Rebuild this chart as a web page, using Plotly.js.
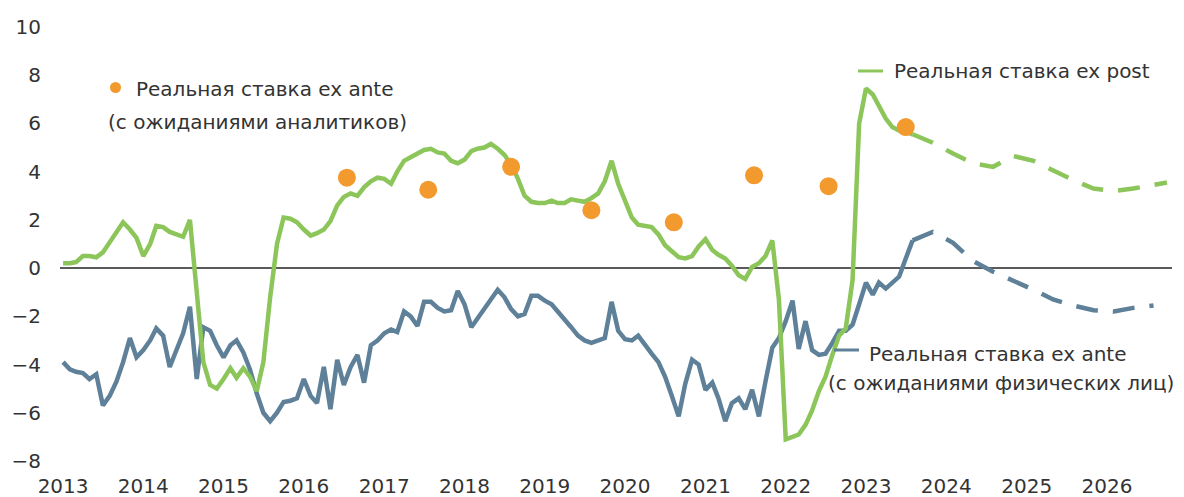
<!DOCTYPE html>
<html>
<head>
<meta charset="utf-8">
<script src="https://cdn.plot.ly/plotly-3.0.1.min.js"></script>
<style>html,body{margin:0;padding:0;background:#fff;}#chart{width:1184px;height:497px;}</style>
</head>
<body>
<div id="chart"></div>
<script>
// Monthly actual data start (Jan 2013)
const startYear = 2013;
const startMonth = 1;

// Real rate ex post (green), monthly Jan 2013 .. Aug 2023
const exPost = [
  0.2, 0.2, 0.25, 0.5, 0.5, 0.45, 0.65, 1.1, 1.5, 1.9, 1.6, 1.25,
  0.5, 1.0, 1.75, 1.7, 1.5, 1.4, 1.3, 2.0, -1.0, -3.9, -4.85, -5.0,
  -4.6, -4.15, -4.55, -4.15, -4.5, -5.1, -3.9, -1.2, 1.0, 2.1, 2.05, 1.9,
  1.6, 1.35, 1.45, 1.6, 1.95, 2.6, 2.95, 3.1, 3.0, 3.35, 3.6, 3.75,
  3.7, 3.5, 4.0, 4.45, 4.6, 4.75, 4.9, 4.95, 4.8, 4.75, 4.45, 4.35,
  4.5, 4.85, 4.95, 5.0, 5.15, 4.95, 4.7, 4.3, 3.7, 3.0, 2.75, 2.7,
  2.7, 2.8, 2.7, 2.7, 2.85, 2.8, 2.75, 2.9, 3.1, 3.6, 4.45, 3.5,
  2.8, 2.1, 1.8, 1.75, 1.7, 1.4, 0.95, 0.7, 0.45, 0.4, 0.5, 0.9,
  1.2, 0.75, 0.55, 0.4, 0.1, -0.3, -0.45, 0.05, 0.2, 0.5, 1.15, -1.3,
  -7.1, -7.0, -6.9, -6.5, -5.9, -5.1, -4.5, -3.6, -2.8, -2.5, -0.5, 6.0,
  7.45, 7.2, 6.75, 6.2, 5.85, 5.7, 5.65, 5.55
];

// Real rate ex ante with household expectations (blue), monthly Jan 2013 .. Aug 2023
const exAnteHouseholds = [
  -3.9, -4.2, -4.3, -4.35, -4.6, -4.4, -5.7, -5.3, -4.7, -3.9, -2.9, -3.7,
  -3.4, -3.0, -2.5, -2.8, -4.1, -3.4, -2.7, -1.6, -4.6, -2.45, -2.6, -3.2,
  -3.7, -3.2, -3.0, -3.5, -4.2, -5.2, -6.0, -6.35, -6.0, -5.55, -5.5, -5.4,
  -4.6, -5.3, -5.6, -4.1, -5.85, -3.8, -4.85, -4.1, -3.6, -4.75, -3.2, -3.0,
  -2.7, -2.55, -2.65, -1.8, -2.0, -2.4, -1.4, -1.4, -1.65, -1.8, -1.75, -0.95,
  -1.5, -2.45, -2.1, -1.7, -1.3, -0.9, -1.2, -1.7, -2.0, -1.9, -1.15, -1.15,
  -1.35, -1.5, -1.8, -2.1, -2.45, -2.8, -3.0, -3.1, -3.0, -2.9, -1.4, -2.6,
  -2.95, -3.0, -2.8, -3.2, -3.55, -3.9, -4.5, -5.3, -6.15, -4.8, -3.8, -4.0,
  -5.05, -4.75, -5.4, -6.35, -5.6, -5.4, -5.85, -5.05, -6.15, -4.7, -3.3, -2.9,
  -2.2, -1.35, -3.35, -2.2, -3.4, -3.6, -3.55, -3.1, -2.6, -2.6, -2.35, -1.5,
  -0.6, -1.1, -0.6, -0.85, -0.6, -0.35, 0.4, 1.15
];

// Forecast (dashed) paths
const fcDatesPost = ['2023-08-01','2023-11-01','2024-02-01','2024-05-01','2024-08-01','2024-11-01',
  '2025-02-01','2025-05-01','2025-08-01','2025-11-01','2026-02-01','2026-05-01','2026-08-01','2026-10-01'];
const fcExPost = [5.55, 5.2, 4.75, 4.35, 4.2, 4.65, 4.45, 4.05, 3.65, 3.3, 3.2, 3.3, 3.45, 3.55];

const fcDatesAnte = ['2023-08-01','2023-11-01','2024-02-01','2024-05-01','2024-08-01','2024-11-01',
  '2025-02-01','2025-05-01','2025-08-01','2025-11-01','2026-02-01','2026-05-01','2026-08-01'];
const fcExAnte = [1.15, 1.5, 1.05, 0.3, -0.15, -0.5, -0.9, -1.3, -1.55, -1.75, -1.8, -1.65, -1.55];

// Real rate ex ante with analysts' expectations (orange dots)
const analystDates = ['2016-07-15','2017-07-20','2018-08-01','2019-08-01','2020-08-10','2021-08-10','2022-07-15','2023-07-01'];
const analystValues = [3.75, 3.25, 4.2, 2.4, 1.9, 3.85, 3.4, 5.85];

// Labels
const labPost = 'Реальная ставка ex post';
const labAnteHh1 = 'Реальная ставка ex ante';
const labAnteHh2 = '(с ожиданиями физических лиц)';
const labAnteAn1 = 'Реальная ставка ex ante';
const labAnteAn2 = '(с ожиданиями аналитиков)';
const yTicks = [-8, -6, -4, -2, 0, 2, 4, 6, 8, 10];

function monthDates(n) {
  const out = [];
  for (let i = 0; i < n; i++) {
    const y = startYear + Math.floor((startMonth - 1 + i) / 12);
    const m = ((startMonth - 1 + i) % 12) + 1;
    out.push(y + '-' + String(m).padStart(2, '0') + '-01');
  }
  return out;
}
const dates = monthDates(exPost.length);

const GREEN = '#8cc55a';
const BLUE = '#5e8199';
const ORANGE = '#f29a2e';
const TXT = '#333333';
const FONT = 'DejaVu Sans, Verdana, sans-serif';
const FS = 20;

const traces = [
  {x: dates, y: exAnteHouseholds, type: 'scatter', mode: 'lines', line: {color: BLUE, width: 4.5}, hoverinfo: 'skip'},
  {x: fcDatesAnte, y: fcExAnte, type: 'scatter', mode: 'lines', line: {color: BLUE, width: 4.5, dash: '22px,15px'}, hoverinfo: 'skip'},
  {x: dates, y: exPost, type: 'scatter', mode: 'lines', line: {color: GREEN, width: 4.5}, hoverinfo: 'skip'},
  {x: fcDatesPost, y: fcExPost, type: 'scatter', mode: 'lines', line: {color: GREEN, width: 4.5, dash: '22px,15px'}, hoverinfo: 'skip'},
  {x: analystDates, y: analystValues, type: 'scatter', mode: 'markers', marker: {color: ORANGE, size: 18}, hoverinfo: 'skip'}
];

// plot area: x 60..1172 px, y 27..461 px
const W = 1112, H = 434, L = 60, T = 27;
const px = v => (v - L) / W;
const py = v => (T + H - v) / H;

const layout = {
  width: 1184, height: 497,
  margin: {l: L, r: 1184 - L - W, t: T, b: 497 - T - H},
  paper_bgcolor: '#fff', plot_bgcolor: '#fff',
  showlegend: false,
  font: {family: FONT, size: FS, color: TXT},
  xaxis: {
    type: 'date',
    range: ['2012-12-18', '2026-10-24'],
    tick0: '2013-01-01', dtick: 'M12', tickformat: '%Y',
    showgrid: false, zeroline: false, showline: false, ticks: '',
    ticklabelstandoff: 11,
    tickfont: {family: FONT, size: FS, color: TXT}
  },
  yaxis: {
    range: [-8, 10],
    tickvals: yTicks,
    showgrid: false, zeroline: true, zerolinecolor: '#5a5a5a', zerolinewidth: 1.5,
    showline: false, ticks: '',
    ticklabelstandoff: 18,
    tickfont: {family: FONT, size: FS, color: TXT}
  },
  shapes: [
    {type: 'circle', xref: 'paper', yref: 'paper', x0: px(110), x1: px(121), y0: py(93), y1: py(82), fillcolor: ORANGE, line: {width: 0}},
    {type: 'line', xref: 'paper', yref: 'paper', x0: px(858), x1: px(883), y0: py(71), y1: py(71), line: {color: GREEN, width: 3}},
    {type: 'line', xref: 'paper', yref: 'paper', x0: px(834), x1: px(859), y0: py(350), y1: py(350), line: {color: BLUE, width: 3}}
  ],
  annotations: [
    {xref: 'paper', yref: 'paper', x: px(134), y: py(89), xanchor: 'left', yanchor: 'middle', text: labAnteAn1, showarrow: false},
    {xref: 'paper', yref: 'paper', x: px(106), y: py(122), xanchor: 'left', yanchor: 'middle', text: labAnteAn2, showarrow: false},
    {xref: 'paper', yref: 'paper', x: px(892), y: py(71), xanchor: 'left', yanchor: 'middle', text: labPost, showarrow: false},
    {xref: 'paper', yref: 'paper', x: px(867), y: py(354), xanchor: 'left', yanchor: 'middle', text: labAnteHh1, showarrow: false},
    {xref: 'paper', yref: 'paper', x: px(826), y: py(383), xanchor: 'left', yanchor: 'middle', text: labAnteHh2, showarrow: false}
  ]
};

Plotly.newPlot('chart', traces, layout, {staticPlot: true, displayModeBar: false});
</script>
</body>
</html>
